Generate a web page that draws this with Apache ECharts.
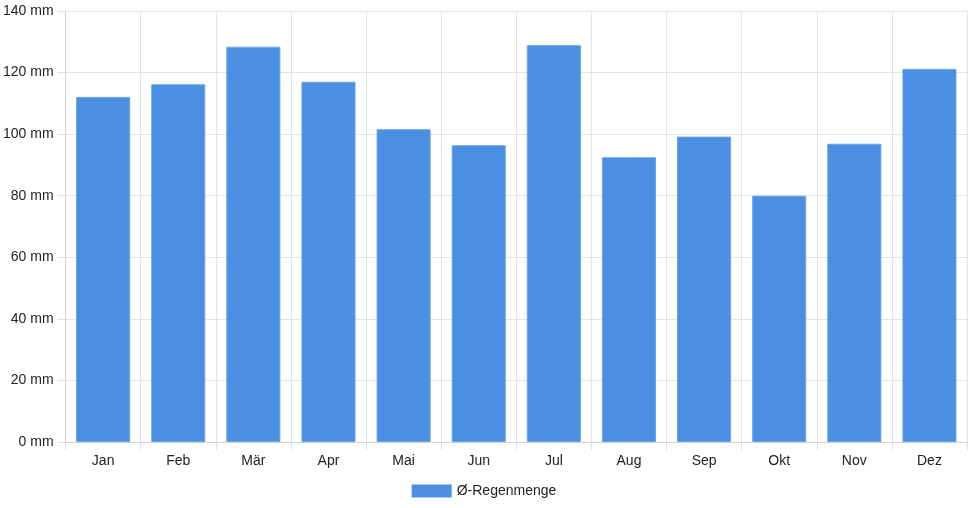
<!DOCTYPE html>
<html>
<head>
<meta charset="utf-8">
<script src="https://cdn.jsdelivr.net/npm/echarts@6/dist/echarts.min.js"></script>
<style>
    html, body { margin: 0; padding: 0; background: #fff; }
    #chart { width: 968px; height: 508px; }
</style>
</head>
<body>
<div id="chart"></div>
<script>
// Monatliche Regenmenge
var months = ['Jan', 'Feb', 'Mär', 'Apr', 'Mai', 'Jun', 'Jul', 'Aug', 'Sep', 'Okt', 'Nov', 'Dez'];
var rain = [112.1, 116.2, 128.4, 117.0, 101.6, 96.4, 128.9, 92.5, 99.2, 80.0, 96.9, 121.2];
var seriesName = 'Ø-Regenmenge';

var myChart = echarts.init(document.getElementById('chart'));

var option = {
    animation: false,
    textStyle: {fontFamily: 'Liberation Sans, Arial, sans-serif'},
    grid: {left: 64, right: 1, top: 11, bottom: 66},
    legend: {
        data: [seriesName],
        icon: 'rect',
        top: 479,
        left: 'center',
        itemWidth: 40,
        itemHeight: 13,
        itemGap: 10,
        itemStyle: {borderWidth: 0},
        textStyle: {fontSize: 14, color: '#222'}
    },
    xAxis: {
        type: 'category',
        data: months,
        boundaryGap: true,
        axisLine: {lineStyle: {color: '#d0d0d0'}},
        axisTick: {show: true, length: 8, lineStyle: {color: '#e0e0e0'}},
        axisLabel: {color: '#222', fontSize: 14, margin: 12},
        splitLine: {show: true, lineStyle: {color: '#e4e4e4'}}
    },
    yAxis: {
        type: 'value',
        min: 0,
        max: 140,
        interval: 20,
        axisLine: {show: true, lineStyle: {color: '#d0d0d0'}},
        axisTick: {show: true, length: 8, lineStyle: {color: '#e0e0e0'}},
        axisLabel: {color: '#222', fontSize: 14, margin: 12, formatter: '{value} mm'},
        splitLine: {show: true, lineStyle: {color: '#e4e4e4'}}
    },
    series: [{
        name: seriesName,
        type: 'bar',
        data: rain,
        barCategoryGap: '28%',
        itemStyle: {color: '#4a8fe2', borderColor: '#6aa6ea', borderWidth: 1}
    }]
};

myChart.setOption(option);
</script>
</body>
</html>
